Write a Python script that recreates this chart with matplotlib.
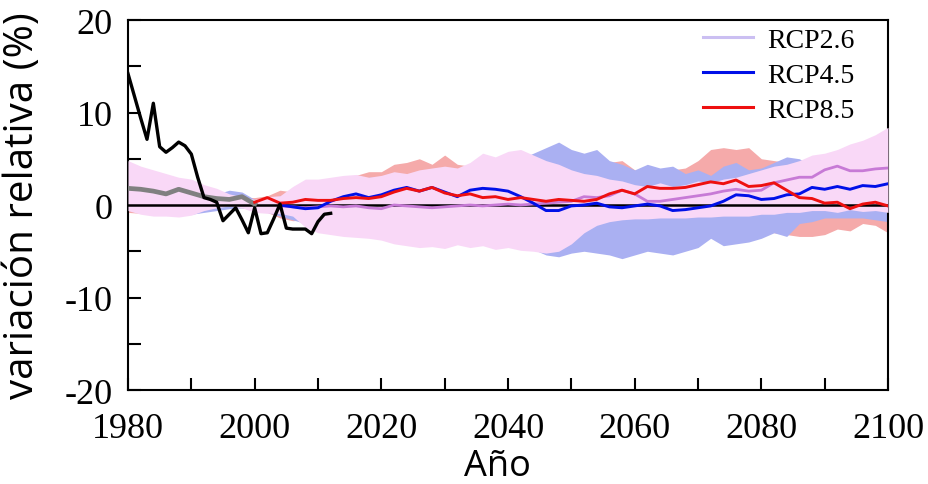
import numpy as np
import matplotlib
matplotlib.use("Agg")
import matplotlib.pyplot as plt
from matplotlib.lines import Line2D

plt.rcParams["axes.unicode_minus"] = False

# ---------------- data ----------------
band_years = list(range(1980, 2101, 2))

rcp26_upper = [4.8, 4.2, 3.8, 3.4, 3.0, 2.8, 2.2, 1.8, 1.2, 0.9, 0.6, 0.9, 1.0, 2.0, 2.8,
               2.8, 3.0, 3.2, 3.3, 3.0, 3.2, 3.6, 3.4, 3.8, 4.0, 4.2, 4.0, 4.6, 5.6, 5.2,
               5.8, 6.0, 5.4, 4.8, 4.4, 3.8, 3.4, 3.2, 2.8, 2.6, 2.2, 2.0, 2.4, 2.0, 2.2,
               2.6, 2.4, 2.8, 3.0, 3.4, 3.8, 4.2, 4.4, 4.8, 5.4, 5.6, 6.0, 6.6, 7.0, 7.6, 8.4]
rcp26_lower = [-0.6, -1.0, -1.2, -1.2, -1.3, -1.1, -0.6, -0.3, -0.1, -0.3, -0.8, -0.9, -0.9, -1.2, -2.4,
               -3.0, -3.2, -3.4, -3.5, -3.6, -3.8, -4.2, -4.4, -4.6, -4.5, -4.7, -4.3, -4.6, -4.4, -4.8,
               -4.6, -4.9, -5.0, -5.2, -5.0, -4.2, -3.0, -2.2, -1.8, -1.6, -1.5, -1.5, -1.4, -1.4, -1.4,
               -1.3, -1.3, -1.2, -1.2, -1.2, -1.0, -1.0, -0.8, -0.8, -0.6, -0.6, -0.8, -0.5, -0.7, -0.6, -0.8]

rcp45_upper = [2.5, 2.3, 2.0, 1.8, 1.8, 1.6, 1.4, 1.2, 1.6, 1.4, 0.6, 0.6, 1.0, 1.4, 1.8,
               1.6, 2.0, 2.4, 2.6, 3.0, 3.0, 3.2, 3.4, 3.2, 3.6, 3.4, 3.6, 3.8, 4.0, 4.2,
               4.4, 5.0, 5.6, 6.2, 6.8, 6.0, 5.6, 6.0, 4.8, 4.4, 3.8, 4.4, 4.0, 4.2, 3.4,
               3.8, 3.2, 4.2, 4.6, 3.8, 4.0, 4.6, 5.2, 5.0, 4.2, 4.6, 5.0, 5.4, 5.6, 6.0, 6.2]
rcp45_lower = [-0.5, -0.6, -0.7, -0.8, -1.0, -1.0, -0.8, -0.6, -0.4, -0.3, -0.6, -0.8, -1.2, -1.6, -2.0,
               -2.2, -2.4, -2.6, -2.8, -3.0, -3.0, -3.2, -3.4, -3.4, -3.6, -3.6, -3.8, -3.8, -4.0, -4.0,
               -4.2, -4.4, -4.8, -5.4, -5.6, -5.2, -5.0, -5.2, -5.4, -5.8, -5.4, -5.0, -5.2, -5.4, -5.0,
               -4.6, -3.6, -4.4, -4.2, -4.0, -3.6, -3.0, -3.4, -2.0, -1.8, -1.4, -1.4, -1.4, -1.4, -1.6, -1.8]

rcp85_upper = [2.0, 1.8, 1.6, 1.4, 1.6, 1.3, 1.2, 1.0, 0.8, 0.8, 0.8, 1.0, 1.6, 1.4, 1.8,
               2.0, 2.4, 2.6, 3.2, 3.6, 3.6, 4.4, 4.6, 5.0, 4.4, 5.4, 4.4, 4.2, 3.8, 4.0,
               4.2, 4.4, 4.6, 5.0, 5.2, 5.4, 5.2, 5.0, 4.6, 4.8, 3.8, 3.6, 3.8, 3.8, 4.0,
               4.8, 6.0, 6.2, 6.0, 6.2, 5.0, 4.8, 4.6, 4.2, 3.6, 3.2, 3.4, 3.2, 2.8, 2.6, 2.4]
rcp85_lower = [-0.8, -0.9, -0.8, -0.9, -0.8, -0.7, -0.5, -0.4, -0.2, -0.3, -0.5, -0.8, -1.4, -1.7, -1.6,
               -2.0, -2.2, -2.4, -2.6, -2.6, -2.8, -2.8, -3.0, -3.0, -3.2, -3.2, -3.4, -3.4, -3.6, -3.6,
               -3.6, -3.6, -3.8, -3.6, -3.6, -3.6, -3.4, -3.2, -3.2, -3.0, -3.0, -3.0, -2.8, -2.8, -2.8,
               -2.8, -2.6, -2.2, -2.4, -2.8, -2.8, -3.0, -3.2, -3.4, -3.4, -3.2, -2.6, -2.8, -2.0, -2.2, -3.0]

mean_years = list(range(2000, 2101, 2))
rcp85_mean = [0.3, 0.8, 0.2, 0.3, 0.6, 0.5, 0.5, 0.7, 0.8, 0.7, 0.9, 1.4, 1.8, 1.5, 1.9,
              1.3, 1.0, 1.2, 0.8, 0.9, 0.6, 0.8, 0.6, 0.4, 0.6, 0.5, 0.4, 0.6, 1.2, 1.6,
              1.2, 2.0, 1.8, 1.8, 1.9, 2.2, 2.5, 2.3, 2.7, 2.0, 2.1, 2.4, 1.6, 0.8, 0.7,
              0.2, 0.3, -0.4, 0.1, 0.3, -0.1]

mean_years_b = list(range(2004, 2101, 2))
rcp45_mean = [0.0, -0.2, -0.4, -0.3, 0.4, 0.9, 1.2, 0.8, 1.1, 1.6, 1.9, 1.5, 1.9, 1.4, 0.9,
              1.6, 1.8, 1.7, 1.5, 0.9, 0.2, -0.6, -0.6, -0.1, 0.0, 0.2, -0.2, -0.3, -0.1, 0.1,
              -0.1, -0.6, -0.5, -0.3, -0.1, 0.4, 1.1, 1.0, 0.6, 0.7, 1.1, 1.2, 1.9, 1.7, 2.0,
              1.7, 2.1, 2.0, 2.3]
rcp26_mean = [-0.1, -0.2, -0.3, -0.2, -0.1, -0.2, -0.1, -0.3, -0.4, 0.0, -0.1, -0.2, -0.3, -0.2, -0.1,
              0.0, -0.1, 0.0, 0.1, 0.0, 0.1, 0.2, 0.3, 0.4, 0.9, 0.8, 1.0, 1.6, 1.2, 0.4,
              0.4, 0.6, 0.8, 1.0, 1.2, 1.5, 1.7, 1.5, 1.6, 2.4, 2.7, 3.0, 3.0, 3.8, 4.2,
              3.7, 3.7, 3.9, 4.0]

obs_years = list(range(1980, 2013))
obs_values = [14.2, 11.8, 9.4, 7.1, 11.0, 6.3, 5.7, 6.2, 6.8, 6.4, 5.5, 3.0, 0.8, 0.6, 0.3,
              -1.7, -1.0, -0.3, -1.6, -3.0, -0.3, -3.1, -3.0, -1.5, 0.1, -2.5, -2.6, -2.6, -2.6,
              -3.1, -1.8, -1.0, -0.9]

hist_years = list(range(1980, 2001, 2))
hist_mean = [1.8, 1.7, 1.5, 1.2, 1.7, 1.3, 0.9, 0.7, 0.6, 0.9, 0.1]

legend_labels = ["RCP2.6", "RCP4.5", "RCP8.5"]
x_ticks = [1980, 2000, 2020, 2040, 2060, 2080, 2100]
y_ticks = [-20, -10, 0, 10, 20]

# ---------------- styles ----------------
c_fill26, c_fill45, c_fill85 = "#f9d8f7", "#aab0f2", "#f5aaaa"
c_line26, c_line45, c_line85 = "#c77ad6", "#0010e8", "#ee1010"
c_leg26 = "#cbbff2"

serif = ["Liberation Serif", "DejaVu Serif"]
sans = ["Open Sans", "DejaVu Sans"]

fig = plt.figure(figsize=(9.29, 4.85), dpi=100)
ax = fig.add_axes([128 / 929, 1 - 391 / 485, (888 - 128) / 929, (391 - 21) / 485])

ax.fill_between(band_years, rcp85_lower, rcp85_upper, color=c_fill85, lw=0, zorder=1)
ax.fill_between(band_years, rcp45_lower, rcp45_upper, color=c_fill45, lw=0, zorder=2)
ax.fill_between(band_years, rcp26_lower, rcp26_upper, color=c_fill26, lw=0, zorder=3)

ax.axhline(0, color="black", lw=1.8, zorder=4)

ax.plot(hist_years, hist_mean, color="#808080", lw=3.4, zorder=5)
ax.plot(mean_years_b, rcp26_mean, color=c_line26, lw=2.0, zorder=6)
ax.plot(mean_years_b, rcp45_mean, color=c_line45, lw=2.1, zorder=7)
ax.plot(mean_years, rcp85_mean, color=c_line85, lw=2.1, zorder=8)
ax.plot(obs_years, obs_values, color="black", lw=2.4, zorder=9)

ax.set_xlim(1980, 2100)
ax.set_ylim(-20, 20)
ax.set_xticks(x_ticks)
ax.set_xticks(range(1990, 2100, 20), minor=True)
ax.set_yticks(y_ticks)
ax.set_yticks([-15, -5, 5, 15], minor=True)
ax.tick_params(which="both", direction="in", length=9, width=1.5, top=False, right=False)
ax.tick_params(axis="x", pad=16)
ax.tick_params(axis="y", pad=11)
for lab in ax.get_xticklabels() + ax.get_yticklabels():
    lab.set_family(serif)
    lab.set_fontsize(26)
for sp in ax.spines.values():
    sp.set_linewidth(1.5)

ax.set_xlabel("Año", family=sans, fontsize=26)
ax.xaxis.set_label_coords(0.486, -0.158)
ax.set_ylabel("variación relativa (%)", family=sans, fontsize=29)
ax.yaxis.set_label_coords(-0.112, 0.5)

handles = [Line2D([], [], color=c_leg26, lw=2.2),
           Line2D([], [], color=c_line45, lw=2.2),
           Line2D([], [], color=c_line85, lw=2.2)]
leg = ax.legend(handles, legend_labels, loc="upper right", frameon=False,
                prop={"family": serif, "size": 20}, handlelength=1.8, handletextpad=0.5,
                labelspacing=0.35, borderaxespad=0.0, bbox_to_anchor=(0.97, 1.01))

fig.savefig("out.png", dpi=100)
